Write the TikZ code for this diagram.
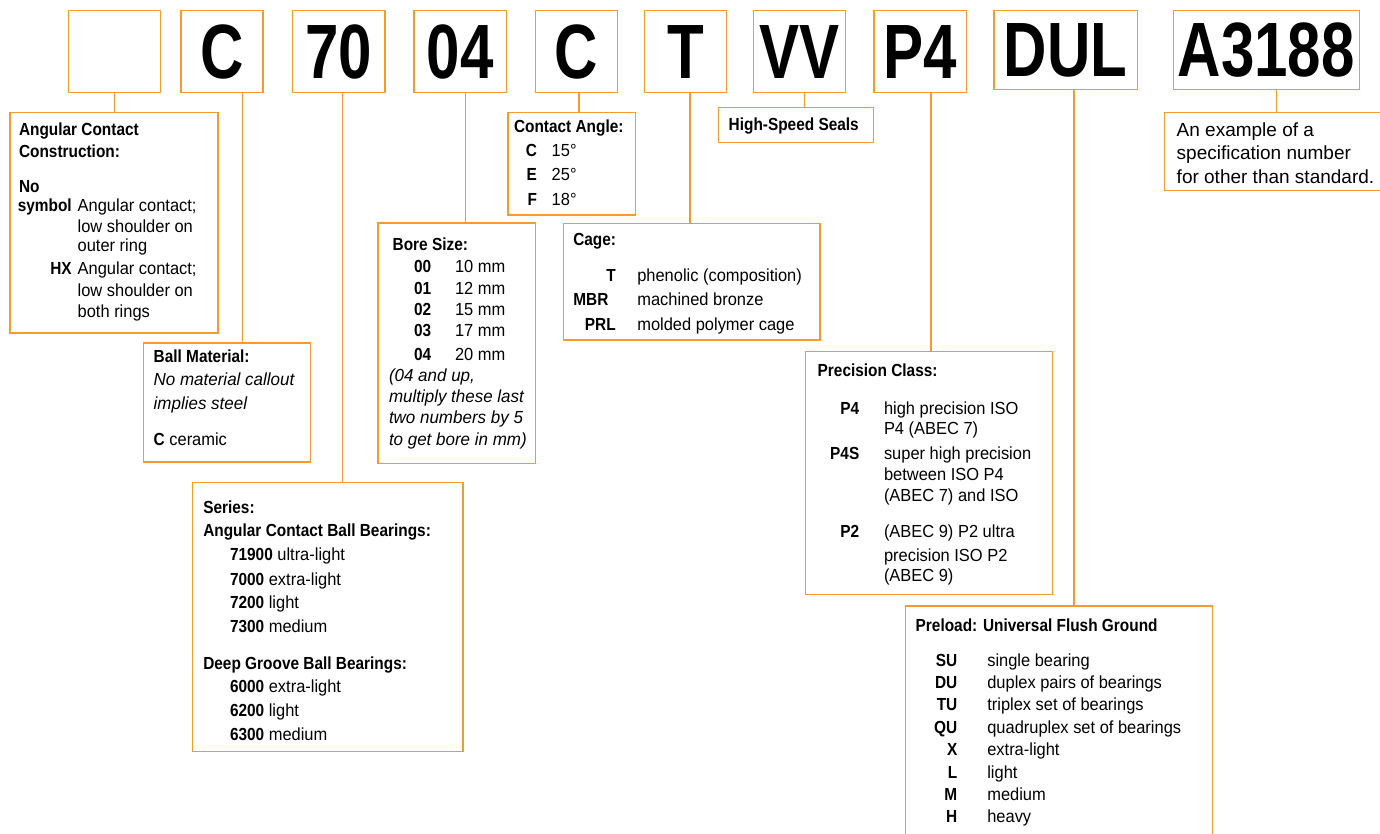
\documentclass[tikz,border=0pt]{standalone}
\usepackage{fontspec}
\setmainfont{Liberation Sans}[UprightFeatures={FakeStretch=0.94},BoldFeatures={FakeStretch=0.88},ItalicFeatures={FakeStretch=0.97},BoldItalicFeatures={FakeStretch=0.88}]
\newfontfamily\bigfont{Liberation Sans}[FakeStretch=0.78]
\newfontfamily\specfont{Liberation Sans}
\definecolor{org}{HTML}{F69A2C}
\tikzset{
 box/.style={draw=org, line width=1.2pt, inner sep=0pt, outer sep=0pt, rectangle},
 big/.style={inner sep=0pt, outer sep=0pt, font=\bigfont\bfseries\fontsize{77}{77}\selectfont},
 txt/.style={inner sep=0pt, outer sep=0pt, font=\fontsize{17.5}{21}\selectfont},
 spectxt/.style={inner sep=0pt, outer sep=0pt, font=\specfont\fontsize{19}{23}\selectfont},
 conn/.style={draw=org, line width=1.2pt},
}
\newcommand\bx[6][]{\node[box,#1,minimum width={(#4-#2)*1pt},minimum height={(#5-#3)*1pt}] (#6) at ({(#2+#4)/2},{(#3+#5)/2}) {};}
\newcommand\tl[4][base west]{\node[txt,anchor=#1] (#2) at (#3) {#4};}
\begin{document}
\begin{tikzpicture}[x=1pt,y=-1pt]
\useasboundingbox (0,0) rectangle (1380,833);
\clip (0,0) rectangle (1380,833);
% top code boxes
\bx{68.7}{10.7}{160.3}{92.7}{b1}
\bx{181}{10.7}{263}{92.7}{b2}
\bx{292.3}{10.7}{385}{92.7}{b3}
\bx{414}{10.7}{506.3}{92.7}{b4}
\bx{535.3}{10.7}{617.3}{92.7}{b5}
\bx{644.7}{10.7}{726.7}{92.7}{b6}
\bx{753.3}{10.7}{845.7}{92.7}{b7}
\bx{874}{10.7}{966.3}{92.7}{b8}
\bx{994}{10.7}{1137.3}{89.3}{b9}
\bx{1173.3}{10.7}{1359.3}{89.3}{b10}
\node[big] (l2) at (b2) {C};
\node[big] (l3) at (b3) {70};
\node[big] (l4) at (b4) {04};
\node[big] (l5) at (b5) {C};
\node[big] (l6) at (b6) {T};
\node[big] (l7) at (b7) {VV};
\node[big] (l8) at (b8) {P4};
\node[big] (l9) at (b9) {DUL};
\node[big] (l10) at (b10) {A3188};
% callout boxes
\bx{10}{112.7}{218}{333}{cA}
\bx{143.3}{343}{310.3}{462}{cB}
\bx{508}{112.7}{635.7}{215}{cC}
\bx{378}{223}{535.3}{463.3}{cD}
\bx{563.3}{223.3}{820}{340}{cE}
\bx{718.3}{107.7}{873.7}{142.3}{cF}
\bx{805.3}{351.7}{1052.3}{594.3}{cG}
\bx{905.7}{606}{1212.3}{845}{cH}
\bx{192.3}{482.3}{463}{751.7}{cI}
\bx{1164.3}{112.7}{1395}{190.3}{cJ}
% connectors
\draw[conn] (b1.south) -- (b1.south |- cA.north);
\draw[conn] ([xshift=20.7pt]b2.south) -- ([xshift=20.7pt]b2.south |- cB.north);
\draw[conn] ([xshift=4.2pt]b3.south) -- ([xshift=4.2pt]b3.south |- cI.north);
\draw[conn] ([xshift=5.3pt]b4.south) -- ([xshift=5.3pt]b4.south |- cD.north);
\draw[conn] ([xshift=2.7pt]b5.south) -- ([xshift=2.7pt]b5.south |- cC.north);
\draw[conn] ([xshift=4.3pt]b6.south) -- ([xshift=4.3pt]b6.south |- cE.north);
\draw[conn] ([xshift=5.2pt]b7.south) -- ([xshift=5.2pt]b7.south |- cF.north);
\draw[conn] ([xshift=10.8pt]b8.south) -- ([xshift=10.8pt]b8.south |- cG.north);
\draw[conn] ([xshift=8.3pt]b9.south) -- ([xshift=8.3pt]b9.south |- cH.north);
\draw[conn] ([xshift=10.4pt]b10.south) -- ([xshift=10.4pt]b10.south |- cJ.north);
% Angular contact construction
\tl{a1}{19,135}{\textbf{Angular Contact}}
\tl{a2}{19,157.3}{\textbf{Construction:}}
\tl{a3}{19,192.3}{\textbf{No}}
\tl[base east]{a4}{71.7,211}{\textbf{symbol}}
\tl{a5}{77.7,211}{Angular contact;}
\tl{a6}{77.7,232.7}{low shoulder on}
\tl{a7}{77.7,251.7}{outer ring}
\tl[base east]{a8}{71.7,274}{\textbf{HX}}
\tl{a9}{77.7,274}{Angular contact;}
\tl{a10}{77.7,296}{low shoulder on}
\tl{a11}{77.7,317.3}{both rings}
% Ball material
\tl{m1}{153.7,362.7}{\textbf{Ball Material:}}
\tl{m2}{153.7,385}{\textit{No material callout}}
\tl{m3}{153.7,409.3}{\textit{implies steel}}
\tl{m4}{153.7,445.7}{\textbf{C} ceramic}
% Contact angle
\tl{c1}{514,132.3}{\textbf{Contact Angle:}}
\tl[base east]{c2}{537,156.7}{\textbf{C}}
\tl{c3}{551.7,156.7}{15°}
\tl[base east]{c4}{537,180}{\textbf{E}}
\tl{c5}{551.7,180}{25°}
\tl[base east]{c6}{537,205}{\textbf{F}}
\tl{c7}{551.7,205}{18°}
% Bore size
\tl{d1}{392.7,250.7}{\textbf{Bore Size:}}
\tl{d2}{414,272.3}{\textbf{00}}
\tl{d3}{455,272.3}{10 mm}
\tl{d4}{414,294}{\textbf{01}}
\tl{d5}{455,294}{12 mm}
\tl{d6}{414,315}{\textbf{02}}
\tl{d7}{455,315}{15 mm}
\tl{d8}{414,336}{\textbf{03}}
\tl{d9}{455,336}{17 mm}
\tl{d10}{414,360}{\textbf{04}}
\tl{d11}{455,360}{20 mm}
\tl{d12}{389,381.7}{\textit{(04 and up,}}
\tl{d13}{389,402.7}{\textit{multiply these last}}
\tl{d14}{389,423.3}{\textit{two numbers by 5}}
\tl{d15}{389,445.7}{\textit{to get bore in mm)}}
% Cage
\tl{e1}{573.3,245.7}{\textbf{Cage:}}
\tl[base east]{e2}{615.7,281.7}{\textbf{T}}
\tl{e3}{637.3,281.7}{phenolic (composition)}
\tl{e4}{573.3,305.7}{\textbf{MBR}}
\tl{e5}{637.3,305.7}{machined bronze}
\tl[base east]{e6}{615.7,330}{\textbf{PRL}}
\tl{e7}{637.3,330}{molded polymer cage}
% Seals
\tl{f1}{728.7,130.7}{\textbf{High-Speed Seals}}
% Precision class
\tl{g1}{817.7,376.7}{\textbf{Precision Class:}}
\tl[base east]{g2}{859.3,414}{\textbf{P4}}
\tl{g3}{884,414}{high precision ISO}
\tl{g4}{884,434.3}{P4 (ABEC 7)}
\tl[base east]{g5}{859.3,459}{\textbf{P4S}}
\tl{g6}{884,459}{super high precision}
\tl{g7}{884,480}{between ISO P4}
\tl{g8}{884,501.7}{(ABEC 7) and ISO}
\tl[base east]{g9}{859.3,537.3}{\textbf{P2}}
\tl{g10}{884,537.3}{(ABEC 9) P2 ultra}
\tl{g11}{884,561}{precision ISO P2}
\tl{g12}{884,581.7}{(ABEC 9)}
% Preload
\tl{h1}{915.7,631.7}{\textbf{Preload: Universal Flush Ground}}
\tl[base east]{h2}{957.3,666}{\textbf{SU}}
\tl{h3}{987.3,666}{single bearing}
\tl[base east]{h4}{957.3,688.7}{\textbf{DU}}
\tl{h5}{987.3,688.7}{duplex pairs of bearings}
\tl[base east]{h6}{957.3,710.7}{\textbf{TU}}
\tl{h7}{987.3,710.7}{triplex set of bearings}
\tl[base east]{h8}{957.3,733.3}{\textbf{QU}}
\tl{h9}{987.3,733.3}{quadruplex set of bearings}
\tl[base east]{h10}{957.3,755.7}{\textbf{X}}
\tl{h11}{987.3,755.7}{extra-light}
\tl[base east]{h12}{957.3,778}{\textbf{L}}
\tl{h13}{987.3,778}{light}
\tl[base east]{h14}{957.3,800.3}{\textbf{M}}
\tl{h15}{987.3,800.3}{medium}
\tl[base east]{h16}{957.3,822.3}{\textbf{H}}
\tl{h17}{987.3,822.3}{heavy}
% Series
\tl{s1}{203.3,513.3}{\textbf{Series:}}
\tl{s2}{203.3,536.7}{\textbf{Angular Contact Ball Bearings:}}
\tl{s3}{230,560.7}{\textbf{71900} ultra-light}
\tl{s4}{230,585}{\textbf{7000} extra-light}
\tl{s5}{230,608.7}{\textbf{7200} light}
\tl{s6}{230,632.7}{\textbf{7300} medium}
\tl{s7}{203.3,669}{\textbf{Deep Groove Ball Bearings:}}
\tl{s8}{230,692.3}{\textbf{6000} extra-light}
\tl{s9}{230,716.7}{\textbf{6200} light}
\tl{s10}{230,740.7}{\textbf{6300} medium}
% Specification
\node[spectxt,anchor=base west] (j1) at (1176.7,136) {An example of a};
\node[spectxt,anchor=base west] (j2) at (1176.7,159.7) {specification number};
\node[spectxt,anchor=base west] (j3) at (1176.7,183.3) {for other than standard.};
\end{tikzpicture}
\end{document}
